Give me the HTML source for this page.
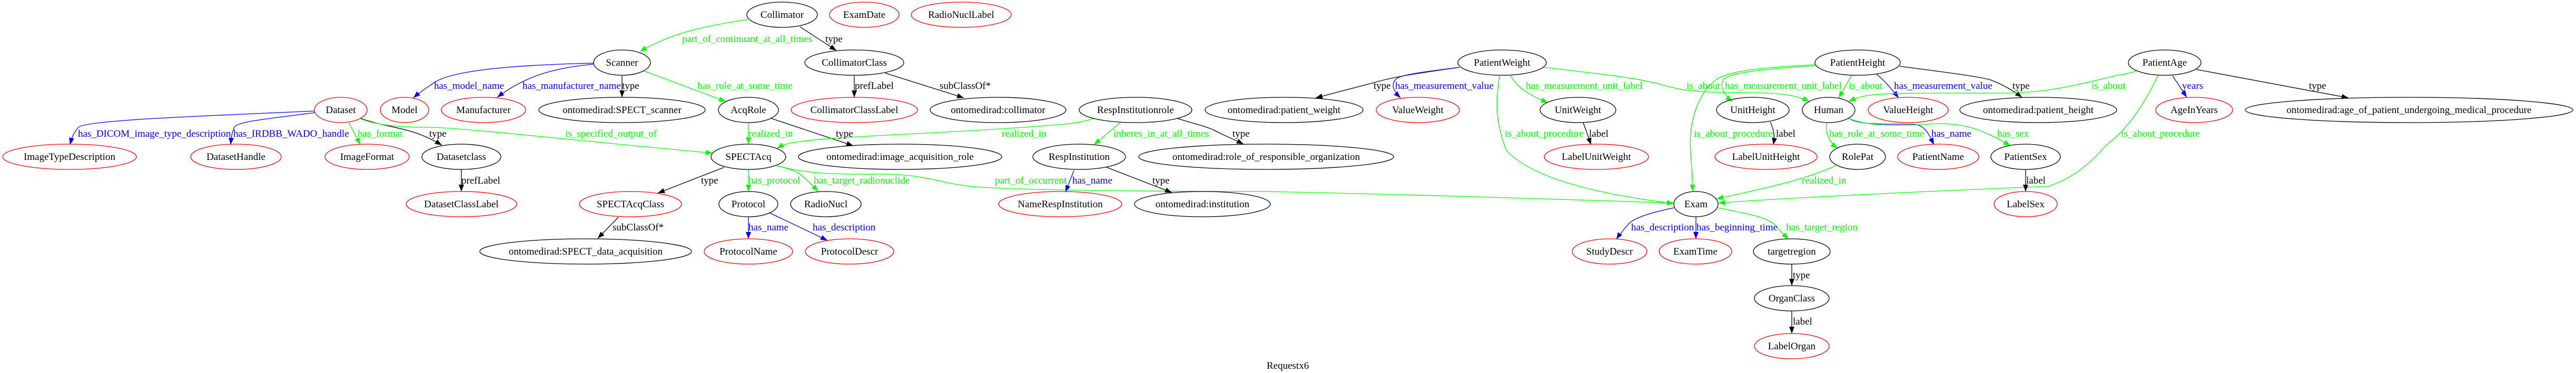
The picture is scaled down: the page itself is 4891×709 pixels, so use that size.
<!DOCTYPE html>
<html><head><meta charset="utf-8"><style>
html,body{margin:0;padding:0;background:#fff;}
svg{display:block;}
text{font-family:"Liberation Serif",serif;font-size:19px;}
.n{fill:none;stroke:#000;stroke-width:1.3;}
.r{fill:none;stroke:#f00;stroke-width:1.3;}
.k{fill:none;stroke:#000;stroke-width:1.3;}
.b{fill:none;stroke:#00f;stroke-width:1.3;}
.g{fill:none;stroke:#0f0;stroke-width:1.3;}
.tk{fill:#000;}.tb{fill:#00f;}.tg{fill:#0f0;}
</style></head><body>
<svg width="4891" height="709" viewBox="0 0 4891 709" xmlns="http://www.w3.org/2000/svg">
<defs>
<marker id="ak" markerUnits="userSpaceOnUse" markerWidth="14" markerHeight="12" refX="13" refY="6" orient="auto"><path d="M0,1 L13,6 L0,11 z" fill="#000"/></marker>
<marker id="ab" markerUnits="userSpaceOnUse" markerWidth="14" markerHeight="12" refX="13" refY="6" orient="auto"><path d="M0,1 L13,6 L0,11 z" fill="#00f"/></marker>
<marker id="ag" markerUnits="userSpaceOnUse" markerWidth="14" markerHeight="12" refX="13" refY="6" orient="auto"><path d="M0,1 L13,6 L0,11 z" fill="#0f0"/></marker>
</defs>

<!-- edges -->
<path class="g" marker-end="url(#ag)" d="M1419,37 C1340,50 1280,60 1215,98"/>
<path class="k" marker-end="url(#ak)" d="M1519,51 L1588,96"/>
<path class="b" marker-end="url(#ab)" d="M1127,120 C960,124 850,135 820,160 C805,170 795,177 785,186"/>
<path class="b" marker-end="url(#ab)" d="M1127,122 C1040,130 990,150 944,185"/>
<path class="k" marker-end="url(#ak)" d="M1181,144 L1181,185"/>
<path class="g" marker-end="url(#ag)" d="M1223,135 L1378,193"/>
<path class="b" marker-end="url(#ab)" d="M598,211 C400,220 160,228 149,242 C140,252 136,262 133,275"/>
<path class="b" marker-end="url(#ab)" d="M598,214 C520,225 450,230 445,242 C440,252 439,262 438,275"/>
<path class="g" marker-end="url(#ag)" d="M662,233 L684,275"/>
<path class="k" marker-end="url(#ak)" d="M685,225 C740,245 780,240 839,276"/>
<path class="g" marker-end="url(#ag)" d="M685,226 C720,240 770,242 820,242 C900,245 1100,268 1353,291"/>
<path class="k" marker-end="url(#ak)" d="M876,322 L876,364"/>
<path class="g" marker-end="url(#ag)" d="M1421,233 L1421,274"/>
<path class="k" marker-end="url(#ak)" d="M1464,225 L1620,277"/>
<path class="g" marker-end="url(#ag)" d="M2079,225 C2060,230 2045,234 2020,236 C1800,255 1560,258 1496,273 C1486,276 1480,279 1475,282"/>
<path class="k" marker-end="url(#ak)" d="M1375,318 L1249,367"/>
<path class="g" marker-end="url(#ag)" d="M1421,322 L1421,364"/>
<path class="g" marker-end="url(#ag)" d="M1475,315 C1500,322 1515,326 1525,336 C1538,348 1546,356 1553,364"/>
<path class="g" marker-end="url(#ag)" d="M1475,315 C1530,330 1580,332 1680,331 C1760,332 1790,350 1850,355 C1950,362 2200,364 2400,364 C2700,370 3000,380 3178,386"/>
<path class="k" marker-end="url(#ak)" d="M1174,413 L1135,453"/>
<path class="b" marker-end="url(#ab)" d="M1421,412 L1421,454"/>
<path class="b" marker-end="url(#ab)" d="M1462,405 L1571,457"/>
<path class="k" marker-end="url(#ak)" d="M1622,143 L1622,185"/>
<path class="k" marker-end="url(#ak)" d="M1681,139 L1830,186"/>
<path class="g" marker-end="url(#ag)" d="M2127,233 L2077,275"/>
<path class="k" marker-end="url(#ak)" d="M2235,225 C2270,236 2290,240 2306,248 C2330,260 2345,266 2361,274"/>
<path class="b" marker-end="url(#ab)" d="M2039,324 L2023,365"/>
<path class="k" marker-end="url(#ak)" d="M2101,318 L2225,366"/>
<path class="k" marker-end="url(#ak)" d="M2771,128 C2700,138 2650,145 2609,157 C2560,170 2530,178 2498,186"/>
<path class="b" marker-end="url(#ab)" d="M2771,128 C2700,137 2660,142 2651,150 C2640,160 2645,172 2659,186"/>
<path class="g" marker-end="url(#ag)" d="M2868,144 C2880,165 2900,180 2939,195"/>
<path class="g" marker-end="url(#ag)" d="M2847,144 C2840,190 2838,230 2860,286 C2900,330 3000,365 3178,387"/>
<path class="g" marker-end="url(#ag)" d="M2932,128 C3010,138 3080,143 3148,159 C3190,172 3220,176 3300,176 C3380,176 3410,180 3435,193"/>
<path class="k" marker-end="url(#ak)" d="M3006,233 L3021,275"/>
<path class="g" marker-end="url(#ag)" d="M3447,123 C3350,128 3290,133 3260,150 C3225,175 3205,230 3210,290 C3212,320 3213,345 3214,364"/>
<path class="g" marker-end="url(#ag)" d="M3447,125 C3360,130 3285,138 3273,150 C3265,160 3270,178 3289,193"/>
<path class="g" marker-end="url(#ag)" d="M3515,144 L3491,186"/>
<path class="b" marker-end="url(#ab)" d="M3563,141 C3580,155 3592,170 3605,186"/>
<path class="k" marker-end="url(#ak)" d="M3607,126 C3700,138 3760,146 3780,152 C3805,162 3822,172 3839,185"/>
<path class="g" marker-end="url(#ag)" d="M4056,135 C4040,140 4030,142 4020,143 C3930,165 3880,177 3800,177 C3700,177 3580,176 3550,181 C3530,184 3520,188 3510,193"/>
<path class="g" marker-end="url(#ag)" d="M4097,144 C4070,200 4040,245 4000,275 C3960,320 3930,340 3890,354 C3700,362 3400,375 3262,386"/>
<path class="b" marker-end="url(#ab)" d="M4125,144 L4152,185"/>
<path class="k" marker-end="url(#ak)" d="M4170,132 L4459,186"/>
<path class="k" marker-end="url(#ak)" d="M3361,232 C3368,245 3370,258 3367,275"/>
<path class="g" marker-end="url(#ag)" d="M3468,234 C3466,250 3470,268 3489,282"/>
<path class="b" marker-end="url(#ab)" d="M3510,225 C3530,237 3560,236 3630,236 C3655,236 3662,255 3672,275"/>
<path class="g" marker-end="url(#ag)" d="M3510,225 C3545,240 3600,240 3660,236 C3730,230 3770,250 3817,277"/>
<path class="g" marker-end="url(#ag)" d="M3485,315 C3420,345 3330,362 3259,378"/>
<path class="k" marker-end="url(#ak)" d="M3846,322 L3846,364"/>
<path class="b" marker-end="url(#ab)" d="M3178,395 C3130,405 3100,415 3090,428 C3080,440 3074,447 3069,455"/>
<path class="b" marker-end="url(#ab)" d="M3220,412 L3220,454"/>
<path class="g" marker-end="url(#ag)" d="M3262,395 C3330,408 3360,415 3372,430 C3380,440 3389,448 3395,455"/>
<path class="k" marker-end="url(#ak)" d="M3402,502 L3402,543"/>
<path class="k" marker-end="url(#ak)" d="M3402,591 L3402,634"/>

<!-- edge labels -->
<g>
<text class="tg" x="1295" y="80">part_of_continuant_at_all_times</text>
<text class="tk" x="1567" y="80">type</text>
<text class="tb" x="824" y="169">has_model_name</text>
<text class="tb" x="992" y="169">has_manufacturer_name</text>
<text class="tk" x="1181" y="169">type</text>
<text class="tg" x="1324" y="169">has_role_at_some_time</text>
<text class="tb" x="148" y="260">has_DICOM_image_type_description</text>
<text class="tb" x="443" y="260">has_IRDBB_WADO_handle</text>
<text class="tg" x="679" y="260">has_format</text>
<text class="tk" x="815" y="260">type</text>
<text class="tg" x="1073" y="260">is_specified_output_of</text>
<text class="tk" x="876" y="349">prefLabel</text>
<text class="tg" x="1421" y="260">realized_in</text>
<text class="tk" x="1587" y="260">type</text>
<text class="tg" x="1902" y="260">realized_in</text>
<text class="tk" x="1331" y="349">type</text>
<text class="tg" x="1421" y="349">has_protocol</text>
<text class="tg" x="1545" y="349">has_target_radionuclide</text>
<text class="tg" x="1889" y="349">part_of_occurrent</text>
<text class="tk" x="1163" y="438">subClassOf*</text>
<text class="tb" x="1421" y="438">has_name</text>
<text class="tb" x="1543" y="438">has_description</text>
<text class="tk" x="1623" y="169">prefLabel</text>
<text class="tk" x="1784" y="169">subClassOf*</text>
<text class="tg" x="2114" y="260">inheres_in_at_all_times</text>
<text class="tk" x="2340" y="260">type</text>
<text class="tb" x="2036" y="349">has_name</text>
<text class="tk" x="2188" y="349">type</text>
<text class="tk" x="2608" y="169">type</text>
<text class="tb" x="2649" y="169">has_measurement_value</text>
<text class="tg" x="2897" y="169">has_measurement_unit_label</text>
<text class="tg" x="2857" y="260">is_about_procedure</text>
<text class="tg" x="3202" y="169">is_about</text>
<text class="tk" x="3017" y="260">label</text>
<text class="tg" x="3216" y="260">is_about_procedure</text>
<text class="tg" x="3275" y="169">has_measurement_unit_label</text>
<text class="tg" x="3510" y="169">is_about</text>
<text class="tb" x="3596" y="169">has_measurement_value</text>
<text class="tk" x="3821" y="169">type</text>
<text class="tg" x="3971" y="169">is_about</text>
<text class="tg" x="4027" y="260">is_about_procedure</text>
<text class="tb" x="4143" y="169">years</text>
<text class="tk" x="4384" y="169">type</text>
<text class="tk" x="3372" y="260">label</text>
<text class="tg" x="3473" y="260">has_role_at_some_time</text>
<text class="tb" x="3667" y="260">has_name</text>
<text class="tg" x="3792" y="260">has_sex</text>
<text class="tg" x="3421" y="349">realized_in</text>
<text class="tk" x="3847" y="349">label</text>
<text class="tb" x="3097" y="438">has_description</text>
<text class="tb" x="3221" y="438">has_beginning_time</text>
<text class="tg" x="3391" y="438">has_target_region</text>
<text class="tk" x="3404" y="529">type</text>
<text class="tk" x="3404" y="617">label</text>
</g>

<!-- nodes -->
<g text-anchor="middle">
<ellipse class="n" cx="1485" cy="28" rx="67" ry="24"/><text x="1485" y="34">Collimator</text>
<ellipse class="r" cx="1641" cy="28" rx="66" ry="24"/><text x="1641" y="34">ExamDate</text>
<ellipse class="r" cx="1825" cy="28" rx="95" ry="24"/><text x="1825" y="34">RadioNuclLabel</text>

<ellipse class="n" cx="1181" cy="119" rx="54" ry="24"/><text x="1181" y="125">Scanner</text>
<ellipse class="n" cx="1622" cy="119" rx="94" ry="24"/><text x="1622" y="125">CollimatorClass</text>
<ellipse class="n" cx="2852" cy="119" rx="84" ry="24"/><text x="2852" y="125">PatientWeight</text>
<ellipse class="n" cx="3527" cy="119" rx="81" ry="24"/><text x="3527" y="125">PatientHeight</text>
<ellipse class="n" cx="4110" cy="119" rx="69" ry="24"/><text x="4110" y="125">PatientAge</text>

<ellipse class="r" cx="647" cy="209" rx="50" ry="24"/><text x="647" y="215">Dataset</text>
<ellipse class="r" cx="768" cy="209" rx="46" ry="24"/><text x="768" y="215">Model</text>
<ellipse class="r" cx="918" cy="209" rx="80" ry="24"/><text x="918" y="215">Manufacturer</text>
<ellipse class="n" cx="1181" cy="209" rx="158" ry="24"/><text x="1181" y="215">ontomedirad:SPECT_scanner</text>
<ellipse class="n" cx="1421" cy="209" rx="57" ry="24"/><text x="1421" y="215">AcqRole</text>
<ellipse class="r" cx="1622" cy="209" rx="120" ry="24"/><text x="1622" y="215">CollimatorClassLabel</text>
<ellipse class="n" cx="1895" cy="209" rx="129" ry="24"/><text x="1895" y="215">ontomedirad:collimator</text>
<ellipse class="n" cx="2156" cy="209" rx="107" ry="24"/><text x="2156" y="215">RespInstitutionrole</text>
<ellipse class="n" cx="2438" cy="209" rx="150" ry="24"/><text x="2438" y="215">ontomedirad:patient_weight</text>
<ellipse class="r" cx="2692" cy="209" rx="79" ry="24"/><text x="2692" y="215">ValueWeight</text>
<ellipse class="n" cx="2996" cy="209" rx="72" ry="24"/><text x="2996" y="215">UnitWeight</text>
<ellipse class="n" cx="3328" cy="209" rx="69" ry="24"/><text x="3328" y="215">UnitHeight</text>
<ellipse class="n" cx="3472" cy="209" rx="50" ry="24"/><text x="3472" y="215">Human</text>
<ellipse class="r" cx="3623" cy="209" rx="76" ry="24"/><text x="3623" y="215">ValueHeight</text>
<ellipse class="n" cx="3870" cy="209" rx="149" ry="24"/><text x="3870" y="215">ontomedirad:patient_height</text>
<ellipse class="r" cx="4166" cy="209" rx="73" ry="24"/><text x="4166" y="215">AgeInYears</text>
<ellipse class="n" cx="4574" cy="209" rx="311" ry="24"/><text x="4574" y="215">ontomedirad:age_of_patient_undergoing_medical_procedure</text>

<ellipse class="r" cx="132" cy="298" rx="127" ry="24"/><text x="132" y="304">ImageTypeDescription</text>
<ellipse class="r" cx="448" cy="298" rx="86" ry="24"/><text x="448" y="304">DatasetHandle</text>
<ellipse class="r" cx="697" cy="298" rx="80" ry="24"/><text x="697" y="304">ImageFormat</text>
<ellipse class="n" cx="876" cy="298" rx="75" ry="24"/><text x="876" y="304">Datasetclass</text>
<ellipse class="n" cx="1421" cy="298" rx="71" ry="24"/><text x="1421" y="304">SPECTAcq</text>
<ellipse class="n" cx="1709" cy="298" rx="193" ry="24"/><text x="1709" y="304">ontomedirad:image_acquisition_role</text>
<ellipse class="n" cx="2049" cy="298" rx="88" ry="24"/><text x="2049" y="304">RespInstitution</text>
<ellipse class="n" cx="2404" cy="298" rx="242" ry="24"/><text x="2404" y="304">ontomedirad:role_of_responsible_organization</text>
<ellipse class="r" cx="3031" cy="298" rx="99" ry="24"/><text x="3031" y="304">LabelUnitWeight</text>
<ellipse class="r" cx="3353" cy="298" rx="97" ry="24"/><text x="3353" y="304">LabelUnitHeight</text>
<ellipse class="n" cx="3527" cy="298" rx="53" ry="24"/><text x="3527" y="304">RolePat</text>
<ellipse class="r" cx="3680" cy="298" rx="77" ry="24"/><text x="3680" y="304">PatientName</text>
<ellipse class="n" cx="3846" cy="298" rx="66" ry="24"/><text x="3846" y="304">PatientSex</text>

<ellipse class="r" cx="876" cy="388" rx="105" ry="24"/><text x="876" y="394">DatasetClassLabel</text>
<ellipse class="r" cx="1197" cy="388" rx="97" ry="24"/><text x="1197" y="394">SPECTAcqClass</text>
<ellipse class="n" cx="1421" cy="388" rx="56" ry="24"/><text x="1421" y="394">Protocol</text>
<ellipse class="n" cx="1568" cy="388" rx="67" ry="24"/><text x="1568" y="394">RadioNucl</text>
<ellipse class="r" cx="2013" cy="388" rx="117" ry="24"/><text x="2013" y="394">NameRespInstitution</text>
<ellipse class="n" cx="2283" cy="388" rx="129" ry="24"/><text x="2283" y="394">ontomedirad:institution</text>
<ellipse class="n" cx="3220" cy="388" rx="42" ry="24"/><text x="3220" y="394">Exam</text>
<ellipse class="r" cx="3846" cy="388" rx="60" ry="24"/><text x="3846" y="394">LabelSex</text>

<ellipse class="n" cx="1112" cy="478" rx="201" ry="24"/><text x="1112" y="484">ontomedirad:SPECT_data_acquisition</text>
<ellipse class="r" cx="1421" cy="478" rx="84" ry="24"/><text x="1421" y="484">ProtocolName</text>
<ellipse class="r" cx="1613" cy="478" rx="84" ry="24"/><text x="1613" y="484">ProtocolDescr</text>
<ellipse class="r" cx="3056" cy="478" rx="71" ry="24"/><text x="3056" y="484">StudyDescr</text>
<ellipse class="r" cx="3219" cy="478" rx="69" ry="24"/><text x="3219" y="484">ExamTime</text>
<ellipse class="n" cx="3402" cy="478" rx="73" ry="24"/><text x="3402" y="484">targetregion</text>

<ellipse class="n" cx="3402" cy="567" rx="71" ry="24"/><text x="3402" y="573">OrganClass</text>
<ellipse class="r" cx="3402" cy="658" rx="71" ry="24"/><text x="3402" y="664">LabelOrgan</text>
</g>

<text x="2405" y="701">Requestx6</text>
</svg>
</body></html>
